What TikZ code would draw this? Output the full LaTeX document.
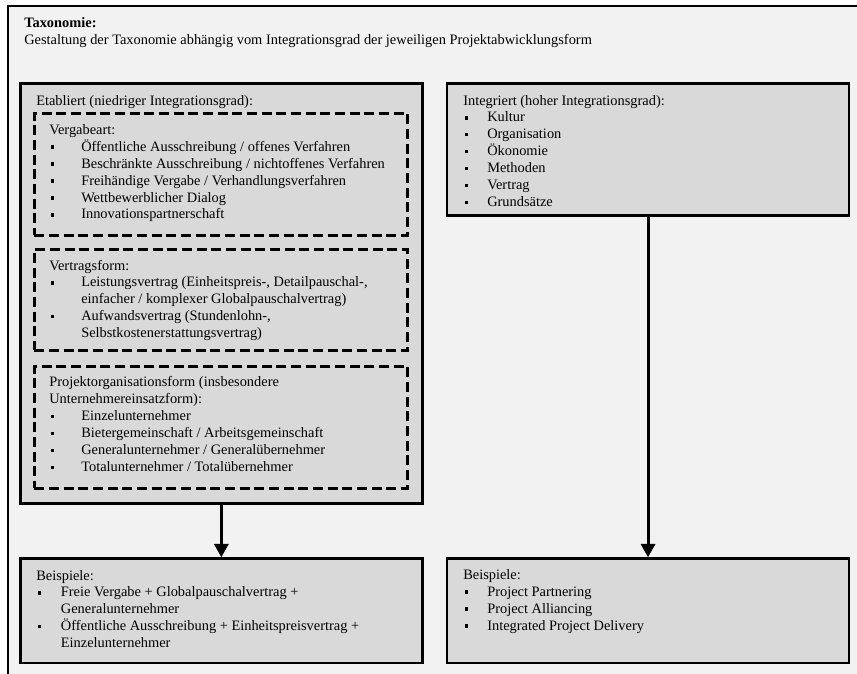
\documentclass[tikz,border=0pt]{standalone}
\usepackage{fontspec}
\setmainfont{Liberation Serif}
\usetikzlibrary{arrows.meta}
\definecolor{bgout}{HTML}{F2F2F2}
\definecolor{boxfill}{HTML}{D9D9D9}
\newcommand\blt[1]{\makebox[#1][l]{\hspace{1.2pt}\rule[1.8pt]{2.6pt}{2.6pt}}}
\newcommand\txtlines[1]{\begin{tabular}[t]{@{}l@{}}#1\end{tabular}}
\begin{document}
\begin{tikzpicture}[x=0.75pt,y=-0.75pt,
  box/.style={draw=black, line width=2pt, fill=boxfill, anchor=north west, inner sep=0pt, minimum width=301.5pt},
  dbox/.style={draw=black, line width=1.9pt, dash pattern=on 7.5pt off 3.5pt, anchor=north west, inner sep=0pt, minimum width=279.75pt},
  txt/.style={anchor=base west, inner sep=0pt, font=\fontsize{10.8}{12.7}\selectfont},
  arr/.style={line width=2.2pt, -{Triangle[width=10.5pt,length=10pt]}}]
\useasboundingbox (0,0) rectangle (857,674);
\fill[bgout] (8,6) rectangle (862,680);
\draw[line width=1.8pt] (8,680) -- (8,6) -- (862,6);
% title
\node[txt, font=\fontsize{10.8}{12.7}\selectfont\bfseries] (title) at (24,27.3) {Taxonomie:};
\node[txt] (subtitle) at (24,45) {Gestaltung der Taxonomie abhängig vom Integrationsgrad der jeweiligen Projektabwicklungsform};
% boxes
\node[box, minimum height=315pt] (etab) at (19,82) {};
\node[box, minimum height=99.2pt] (integ) at (445.7,82) {};
\node[box, minimum height=78.3pt] (bsp1) at (19,557.3) {};
\node[box, minimum height=78.3pt] (bsp2) at (445.7,557.3) {};
% dashed groups
\node[dbox, minimum height=91.5pt] (g1) at (33,112) {};
\node[dbox, minimum height=75.75pt] (g2) at (33,248) {};
\node[dbox, minimum height=91.5pt] (g3) at (33,365) {};
% texts
\node[txt] (etabt) at (36,105) {Etabliert (niedriger Integrationsgrad):};
\node[txt] (g1t) at (49,134.3) {\txtlines{Vergabeart:\\
\blt{24pt}Öffentliche Ausschreibung / offenes Verfahren\\
\blt{24pt}Beschränkte Ausschreibung / nichtoffenes Verfahren\\
\blt{24pt}Freihändige Vergabe / Verhandlungsverfahren\\
\blt{24pt}Wettbewerblicher Dialog\\
\blt{24pt}Innovationspartnerschaft}};
\node[txt] (g2t) at (49,270) {\txtlines{Vertragsform:\\
\blt{24pt}Leistungsvertrag (Einheitspreis-, Detailpauschal-,\\
\hspace*{24pt}einfacher / komplexer Globalpauschalvertrag)\\
\blt{24pt}Aufwandsvertrag (Stundenlohn-,\\
\hspace*{24pt}Selbstkostenerstattungsvertrag)}};
\node[txt] (g3t) at (49,386.7) {\txtlines{Projektorganisationsform (insbesondere\\
Unternehmereinsatzform):\\
\blt{24pt}Einzelunternehmer\\
\blt{24pt}Bietergemeinschaft / Arbeitsgemeinschaft\\
\blt{24pt}Generalunternehmer / Generalübernehmer\\
\blt{24pt}Totalunternehmer / Totalübernehmer}};
\node[txt] (integt) at (463,105) {\txtlines{Integriert (hoher Integrationsgrad):\\
\blt{18pt}Kultur\\
\blt{18pt}Organisation\\
\blt{18pt}Ökonomie\\
\blt{18pt}Methoden\\
\blt{18pt}Vertrag\\
\blt{18pt}Grundsätze}};
\node[txt] (bsp1t) at (36,580) {\txtlines{Beispiele:\\
\blt{18.5pt}Freie Vergabe + Globalpauschalvertrag +\\
\hspace*{18.5pt}Generalunternehmer\\
\blt{18.5pt}Öffentliche Ausschreibung + Einheitspreisvertrag +\\
\hspace*{18.5pt}Einzelunternehmer}};
\node[txt] (bsp2t) at (463,579.3) {\txtlines{Beispiele:\\
\blt{18pt}Project Partnering\\
\blt{18pt}Project Alliancing\\
\blt{18pt}Integrated Project Delivery}};
% arrows
\draw[arr] (etab.south) -- (bsp1.north);
\draw[arr] (integ.south) -- (bsp2.north);
\end{tikzpicture}
\end{document}
